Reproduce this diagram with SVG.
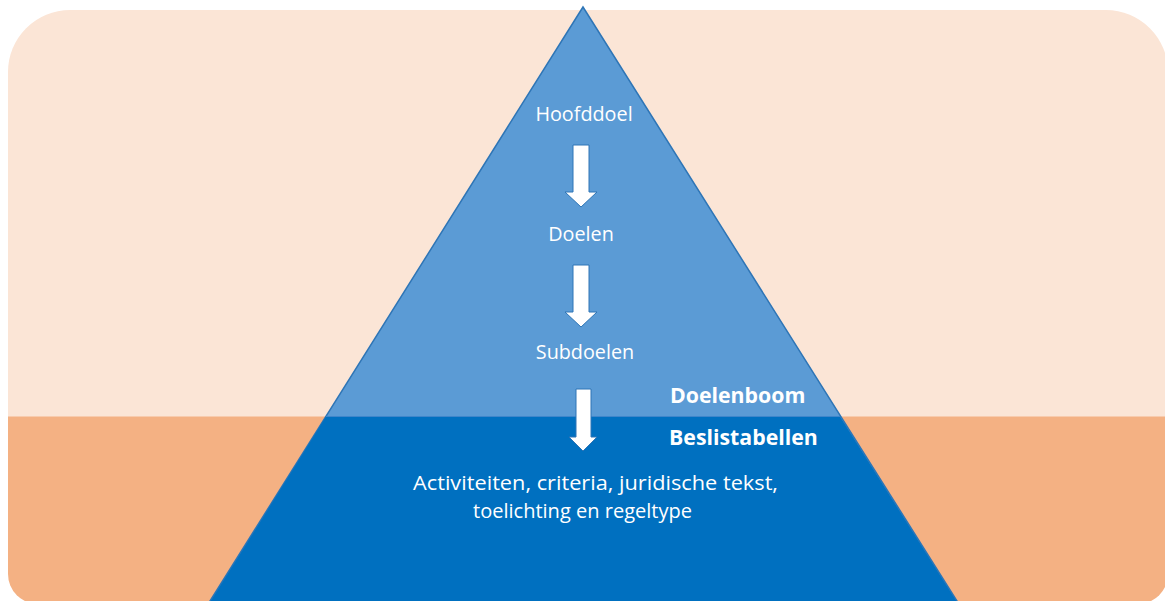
<svg xmlns="http://www.w3.org/2000/svg" width="1165" height="601" viewBox="0 0 1165 601">
<style>
.t{font-family:"Open Sans","Liberation Sans",sans-serif;fill:#fff;font-size:19.8px}
.c{text-anchor:middle}
.b{font-weight:bold;font-size:21.3px}
.s{font-size:20.5px}
.arrow{fill:#fff;stroke:#2E75B6;stroke-width:1}
</style>
<rect width="1165" height="601" fill="#fff"/>
<g id="background">
<path d="M8,72 A62,62 0 0 1 70,10 H1106 A62,62 0 0 1 1168,72 V416 H8 Z" fill="#FBE5D6"/>
<path d="M8,416 H1168 V574 A30,30 0 0 1 1138,604 H38 A30,30 0 0 1 8,574 Z" fill="#F4B183"/>
<line x1="8" y1="416.5" x2="1168" y2="416.5" stroke="#F8CBAD" stroke-width="1"/>
</g>
<g id="pyramid">
<polygon points="583,7 210,601 957,601" fill="#5B9BD5" stroke="#2E75B6" stroke-width="1.5"/>
<polygon points="326,416.5 840,416.5 957,602 210,602" fill="#0070C0"/>
<line x1="326" y1="416.5" x2="840" y2="416.5" stroke="#3F86CB" stroke-width="1"/>
</g>
<g id="node-hoofddoel"><text class="t c" x="584" y="121">Hoofddoel</text></g>
<g id="node-doelen"><text class="t c" x="581" y="241">Doelen</text></g>
<g id="node-subdoelen"><text class="t c" x="585" y="359">Subdoelen</text></g>
<g id="label-doelenboom"><text class="t b" x="670" y="403">Doelenboom</text></g>
<g id="label-beslistabellen"><text class="t b" x="669" y="445">Beslistabellen</text></g>
<g id="node-activiteiten">
<text class="t s" x="413" y="490" textLength="365" lengthAdjust="spacingAndGlyphs">Activiteiten, criteria, juridische tekst,</text>
<text class="t s" x="473" y="518" textLength="219" lengthAdjust="spacingAndGlyphs">toelichting en regeltype</text>
</g>
<g id="connectors">
<polygon class="arrow" points="573,145 589,145 589,192 597,192 581,207 565,192 573,192"/>
<polygon class="arrow" points="573,265 589,265 589,312 597,312 581,327 565,312 573,312"/>
<polygon class="arrow" points="576,389 591,389 591,437 597,437 583,451 569,437 576,437"/>
</g>
</svg>
